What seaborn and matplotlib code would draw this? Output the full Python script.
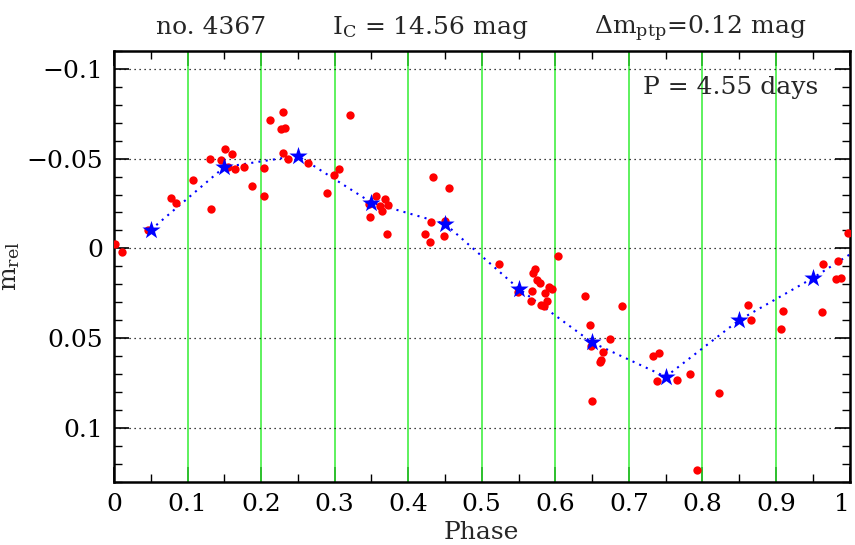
import numpy as np
import pandas as pd
import seaborn as sns
import matplotlib
matplotlib.use("Agg")
import matplotlib.pyplot as plt
from matplotlib.ticker import MultipleLocator, FixedLocator

# ---- data ----
phase_pts = [0.0016, 0.011, 0.046, 0.078, 0.085, 0.107, 0.132, 0.131, 0.145, 0.151,
             0.155, 0.161, 0.164, 0.177, 0.187, 0.204, 0.204, 0.212, 0.227, 0.230,
             0.233, 0.230, 0.236, 0.2636, 0.290, 0.299, 0.306, 0.321, 0.347, 0.348,
             0.356, 0.361, 0.365, 0.368, 0.373, 0.3707, 0.423, 0.430, 0.431, 0.434,
             0.448, 0.450, 0.455, 0.524, 0.549, 0.567, 0.568, 0.570, 0.572, 0.575,
             0.579, 0.580, 0.584, 0.586, 0.589, 0.592, 0.595, 0.604, 0.6405, 0.647,
             0.648, 0.650, 0.661, 0.662, 0.665, 0.674, 0.690, 0.733, 0.738, 0.741,
             0.766, 0.783, 0.792, 0.823, 0.862, 0.8656, 0.907, 0.910, 0.963, 0.964,
             0.981, 0.985, 0.988, 0.9985]
mag_pts = [-0.0023, 0.002, -0.010, -0.028, -0.025, -0.038, -0.0218, -0.0497, -0.049, -0.0553,
           -0.0456, -0.0527, -0.0441, -0.0453, -0.0345, -0.0294, -0.0449, -0.0715, -0.0664, -0.0759,
           -0.0672, -0.0531, -0.0499, -0.0475, -0.0311, -0.0411, -0.0443, -0.0746, -0.0248, -0.0174,
           -0.0289, -0.0237, -0.0209, -0.0274, -0.0239, -0.0079, -0.0079, -0.0036, -0.0144, -0.0395,
           -0.0068, -0.0155, -0.0339, 0.0085, 0.0246, 0.0294, 0.0237, 0.0140, 0.0116, 0.0176,
           0.0194, 0.0317, 0.0324, 0.0250, 0.0291, 0.0215, 0.0224, 0.0044, 0.0265, 0.0430,
           0.0543, 0.0850, 0.0633, 0.0621, 0.0577, 0.0505, 0.0324, 0.0599, 0.0739, 0.0582,
           0.0733, 0.0698, 0.1238, 0.0807, 0.0315, 0.0399, 0.0447, 0.035, 0.0354, 0.0088,
           0.017, 0.0068, 0.0163, -0.0083]

phase_bin = [0.05, 0.15, 0.25, 0.35, 0.45, 0.55, 0.65, 0.75, 0.85, 0.95]
mag_bin = [-0.0103, -0.0453, -0.0516, -0.0255, -0.0137, 0.0224, 0.0525, 0.0716, 0.040, 0.0166]

phase_line = phase_bin + [1.0]
mag_line = mag_bin + [0.0035]

x_ticks = [0, 0.1, 0.2, 0.3, 0.4, 0.5, 0.6, 0.7, 0.8, 0.9, 1.0]
x_labels = ["0", "0.1", "0.2", "0.3", "0.4", "0.5", "0.6", "0.7", "0.8", "0.9", "1"]
y_ticks = [-0.1, -0.05, 0, 0.05, 0.1]
y_labels = ["\u22120.1", "\u22120.05", "0", "0.05", "0.1"]
green_lines = [0.1, 0.2, 0.3, 0.4, 0.5, 0.6, 0.7, 0.8, 0.9]

# ---- style ----
sns.set_theme(style="white")
plt.rcParams["font.family"] = ["DejaVu Serif"]
plt.rcParams["mathtext.fontset"] = "dejavuserif"
FS = 18

fig = plt.figure(figsize=(8.55, 5.45), dpi=100)
ax = fig.add_axes([0.1333, 0.1165, 0.8603, 0.7899])

for gx in green_lines:
    ax.axvline(gx, color="#33ee33", lw=1.1, zorder=1)
for gy in y_ticks:
    ax.axhline(gy, color="black", lw=0.9, ls=(0, (1, 3)), zorder=1)

df_pts = pd.DataFrame({"phase": phase_pts, "mag": mag_pts})
df_bin = pd.DataFrame({"phase": phase_bin, "mag": mag_bin})
df_line = pd.DataFrame({"phase": phase_line, "mag": mag_line})

sns.lineplot(data=df_line, x="phase", y="mag", ax=ax, color="blue", lw=1.5,
             linestyle=(0, (1, 2.5)), sort=False, zorder=2)
sns.scatterplot(data=df_pts, x="phase", y="mag", ax=ax, color="red", s=36,
                linewidth=0, zorder=3)
sns.scatterplot(data=df_bin, x="phase", y="mag", ax=ax, color="blue", marker="*",
                s=190, linewidth=0, zorder=4)

ax.set_xlim(0, 1)
ax.set_ylim(0.130, -0.110)

ax.xaxis.set_major_locator(FixedLocator(x_ticks))
ax.set_xticklabels(x_labels)
ax.xaxis.set_minor_locator(MultipleLocator(0.05))
ax.yaxis.set_major_locator(FixedLocator(y_ticks))
ax.set_yticklabels(y_labels)
ax.yaxis.set_minor_locator(MultipleLocator(0.01))

ax.tick_params(which="both", direction="in", top=True, right=True, bottom=True, left=True,
               colors="black", labelsize=FS)
ax.tick_params(which="major", length=11, width=1.2, pad=8)
ax.tick_params(which="minor", length=6, width=1.0)
for sp in ax.spines.values():
    sp.set_linewidth(1.8)
    sp.set_color("black")

# keep the last tick label inside the figure
ax.get_xticklabels()[-1].set_horizontalalignment("right")

ax.set_xlabel("Phase", fontsize=FS, labelpad=4)
ax.set_ylabel(r"m$_\mathrm{rel}$", fontsize=FS)
ax.yaxis.set_label_coords(-0.125, 0.5)

ax.text(0.957, -0.0895, "P = 4.55 days", fontsize=FS, ha="right", va="center")

fig.text(211 / 855, 1 - 34 / 545, "no. 4367", fontsize=FS, ha="center", va="baseline")
fig.text(430 / 855, 1 - 34 / 545, r"I$_\mathrm{C}$ = 14.56 mag", fontsize=FS, ha="center", va="baseline")
fig.text(700 / 855, 1 - 34 / 545, r"$\Delta$m$_\mathrm{ptp}$=0.12 mag", fontsize=FS, ha="center", va="baseline")

fig.savefig("out.png", dpi=100)
